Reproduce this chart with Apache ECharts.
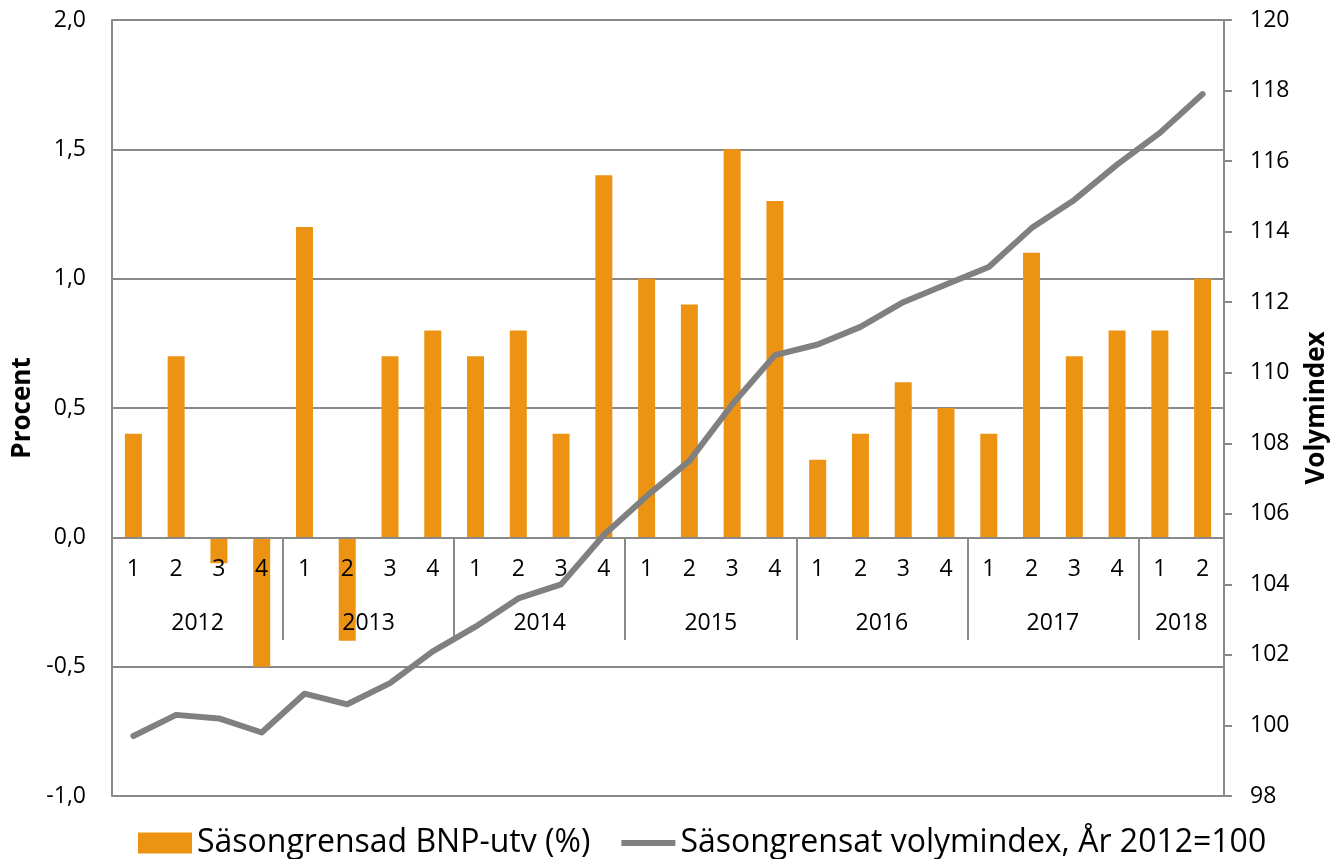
<!DOCTYPE html>
<html>
<head>
<meta charset="utf-8">
<script src="https://cdn.jsdelivr.net/npm/echarts@6/dist/echarts.min.js"></script>
<style>
  html, body { margin: 0; padding: 0; background: #fff; }
  #chart { width: 1332px; height: 859px; }
</style>
</head>
<body>
<div id="chart"></div>
<script>
  // kvartal 2012 Q1 - 2018 Q2
  var quarters = ['1','2','3','4','1','2','3','4','1','2','3','4','1','2','3','4',
                  '1','2','3','4','1','2','3','4','1','2'];
  var years = ['2012', '2013', '2014', '2015', '2016', '2017', '2018'];
  var quartersPerYear = [4, 4, 4, 4, 4, 4, 2];

  // Säsongrensad BNP-utv (%)
  var bnpGrowth = [0.4, 0.7, -0.1, -0.5, 1.2, -0.4, 0.7, 0.8, 0.7, 0.8, 0.4, 1.4,
                   1.0, 0.9, 1.5, 1.3, 0.3, 0.4, 0.6, 0.5, 0.4, 1.1, 0.7, 0.8, 0.8, 1.0];
  // Säsongrensat volymindex, År 2012=100
  var volumeIndex = [99.7, 100.3, 100.2, 99.8, 100.9, 100.6, 101.2, 102.1,
                     102.8, 103.6, 104.0, 105.4, 106.5, 107.5, 109.1, 110.5,
                     110.8, 111.3, 112.0, 112.5, 113.0, 114.1, 114.9, 115.9,
                     116.8, 117.9];

  var seriesNames = ['Säsongrensad BNP-utv (%)', 'Säsongrensat volymindex, År 2012=100'];

  var font = '"Open Sans", sans-serif';
  var grey = '#898989';
  var zeroOffset = -258;   // flytta kategoriaxlarna upp till 0-linjen

  // år-axeln: en punkt per kvartalsgräns (0..26)
  var yearLabelAt = {};
  var yearBreaks = {};
  var pos = 0;
  for (var i = 0; i < years.length; i++) {
    yearLabelAt[pos + quartersPerYear[i] / 2] = years[i];
    pos += quartersPerYear[i];
    if (i < years.length - 1) yearBreaks[pos] = true;
  }
  var yearSlots = [];
  for (var k = 0; k <= quarters.length; k++) yearSlots.push(String(k));

  var chart = echarts.init(document.getElementById('chart'));
  var option = {
    animation: false,
    textStyle: { fontFamily: font },
    grid: {
      left: 112, right: 108, top: 20, bottom: 63,
      containLabel: false,
      outerBoundsMode: 'none'
    },
    legend: {
      left: 133,
      top: 822,
      itemWidth: 54,
      itemHeight: 21,
      itemGap: 31,
      textStyle: { fontSize: 32, color: '#000', fontFamily: font },
      data: [
        { name: seriesNames[0], icon: 'rect' },
        { name: seriesNames[1], icon: 'path://M0,0H56V6H0Z' }
      ]
    },
    xAxis: [{
      type: 'category',
      position: 'bottom',
      offset: zeroOffset,
      z: 5,
      data: quarters,
      boundaryGap: true,
      axisLine: { onZero: false, lineStyle: { color: grey, width: 2 } },
      axisTick: { show: false },
      axisLabel: { interval: 0, margin: 20, fontSize: 23, color: '#000' },
      splitLine: { show: false }
    }, {
      type: 'category',
      position: 'bottom',
      offset: zeroOffset,
      z: 5,
      data: yearSlots,
      boundaryGap: false,
      axisLine: { onZero: false, lineStyle: { color: grey, width: 2 } },
      axisTick: {
        show: true,
        length: 102,
        interval: function (index) { return !!yearBreaks[index]; },
        lineStyle: { color: grey, width: 2 }
      },
      axisLabel: {
        interval: 0,
        margin: 74,
        fontSize: 23,
        color: '#000',
        formatter: function (v, idx) { return yearLabelAt[idx] || ''; }
      },
      splitLine: { show: false }
    }],
    yAxis: [{
      type: 'value',
      position: 'left',
      min: -1,
      max: 2,
      interval: 0.5,
      name: 'Procent',
      nameLocation: 'middle',
      nameRotate: 90,
      nameGap: 63,
      nameTextStyle: { fontSize: 26, fontWeight: 'bold', color: '#000' },
      axisLine: { show: true, onZero: false, lineStyle: { color: grey, width: 2 } },
      axisTick: { show: false },
      axisLabel: {
        margin: 26, fontSize: 23, color: '#000',
        formatter: function (v) { return v.toFixed(1).replace('.', ','); }
      },
      splitLine: { show: true, lineStyle: { color: grey, width: 2 } }
    }, {
      type: 'value',
      position: 'right',
      min: 98,
      max: 120,
      interval: 2,
      name: 'Volymindex',
      nameLocation: 'middle',
      nameRotate: 90,
      nameGap: 80,
      nameTextStyle: { fontSize: 26, fontWeight: 'bold', color: '#000' },
      axisLine: { show: true, onZero: false, lineStyle: { color: grey, width: 2 } },
      axisTick: { show: true, inside: false, length: 8, lineStyle: { color: grey, width: 2 } },
      axisLabel: { margin: 26, fontSize: 23, color: '#000' },
      splitLine: { show: false }
    }],
    series: [{
      name: seriesNames[0],
      type: 'bar',
      xAxisIndex: 0,
      yAxisIndex: 0,
      barWidth: 17,
      itemStyle: { color: '#ED9314' },
      data: bnpGrowth,
      z: 2
    }, {
      name: seriesNames[1],
      type: 'line',
      xAxisIndex: 0,
      yAxisIndex: 1,
      symbol: 'none',
      smooth: false,
      itemStyle: { color: '#808080' },
      lineStyle: { color: '#808080', width: 6, cap: 'round', join: 'round' },
      data: volumeIndex,
      z: 6
    }]
  };
  chart.setOption(option);
</script>
</body>
</html>
